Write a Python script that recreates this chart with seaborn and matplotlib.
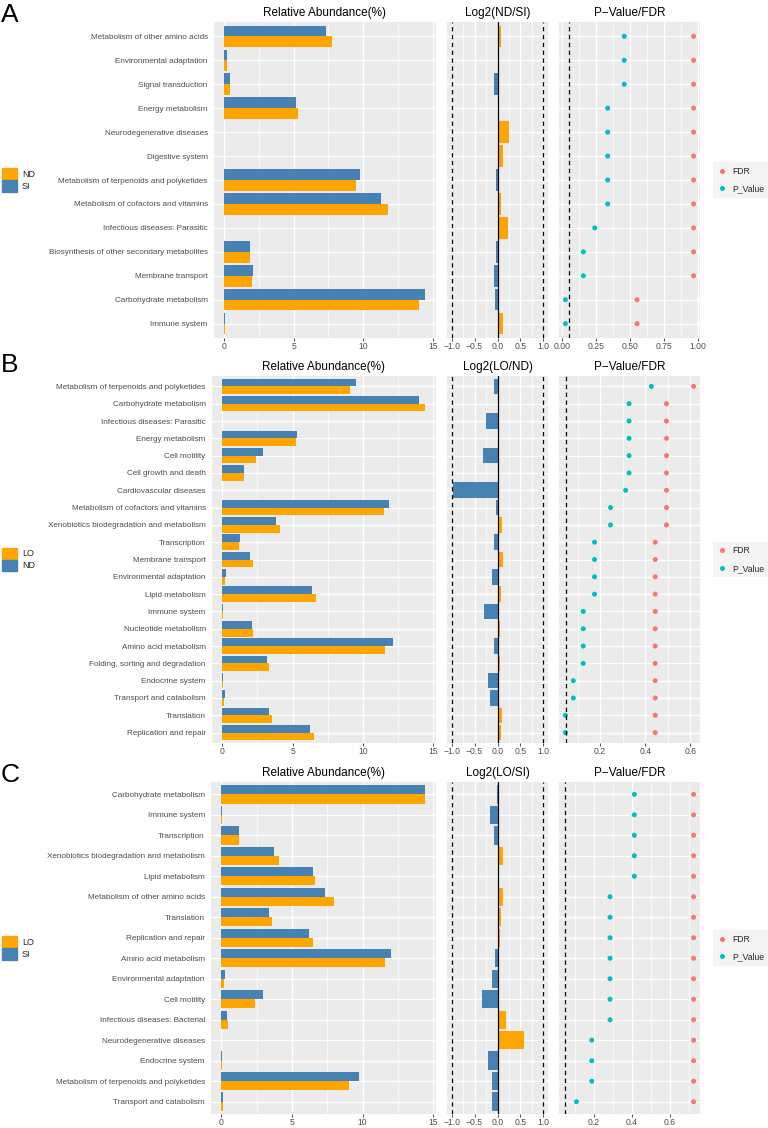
from matplotlib import pyplot as plt
from matplotlib.patches import Patch
from matplotlib.ticker import MultipleLocator, FuncFormatter
import pandas as pd
import seaborn as sns

# ---- panel A : ND vs SI
a_cats = ['Metabolism of other amino acids', 'Environmental adaptation', 'Signal transduction',
          'Energy metabolism', 'Neurodegenerative diseases', 'Digestive system',
          'Metabolism of terpenoids and polyketides', 'Metabolism of cofactors and vitamins',
          'Infectious diseases: Parasitic', 'Biosynthesis of other secondary metabolites',
          'Membrane transport', 'Carbohydrate metabolism', 'Immune system']
a_nd = [7.75, 0.22, 0.41, 5.30, 0.004, 0.003, 9.52, 11.82, 0.003, 1.85, 2.01, 14.00, 0.08]
a_si = [7.34, 0.22, 0.43, 5.20, 0.003, 0.003, 9.78, 11.25, 0.003, 1.87, 2.11, 14.48, 0.07]
a_log2 = [0.074, 0.01, -0.074, 0.02, 0.26, 0.13, -0.04, 0.067, 0.23, -0.03, -0.07, -0.06, 0.12]
a_p = [0.46, 0.46, 0.46, 0.338, 0.338, 0.338, 0.338, 0.338, 0.243, 0.159, 0.159, 0.027, 0.027]
a_fdr = [0.97, 0.97, 0.97, 0.97, 0.97, 0.97, 0.97, 0.97, 0.97, 0.97, 0.97, 0.554, 0.554]

# ---- panel B : LO vs ND
b_cats = ['Metabolism of terpenoids and polyketides', 'Carbohydrate metabolism',
          'Infectious diseases: Parasitic', 'Energy metabolism', 'Cell motility',
          'Cell growth and death', 'Cardiovascular diseases', 'Metabolism of cofactors and vitamins',
          'Xenobiotics biodegradation and metabolism', 'Transcription', 'Membrane transport',
          'Environmental adaptation', 'Lipid metabolism', 'Immune system', 'Nucleotide metabolism',
          'Amino acid metabolism', 'Folding, sorting and degradation', 'Endocrine system',
          'Transport and catabolism', 'Translation', 'Replication and repair']
b_lo = [9.08, 14.43, 0.003, 5.21, 2.37, 1.54, 0.002, 11.49, 4.10, 1.23, 2.20, 0.21, 6.66,
        0.05, 2.20, 11.59, 3.32, 0.07, 0.12, 3.55, 6.49]
b_nd = [9.53, 13.98, 0.003, 5.28, 2.91, 1.54, 0.003, 11.82, 3.82, 1.28, 2.01, 0.24, 6.37,
        0.07, 2.11, 12.13, 3.20, 0.09, 0.17, 3.36, 6.21]
b_log2 = [-0.07, 0.04, -0.25, 0.02, -0.31, 0.01, -0.96, -0.04, 0.10, -0.07, 0.13, -0.13, 0.07,
          -0.29, 0.06, -0.07, 0.05, -0.21, -0.16, 0.10, 0.07]
b_p = [0.427, 0.328, 0.328, 0.328, 0.328, 0.328, 0.313, 0.246, 0.246, 0.175, 0.175, 0.175, 0.175,
       0.125, 0.125, 0.125, 0.125, 0.081, 0.081, 0.046, 0.046]
b_fdr = [0.614, 0.494, 0.494, 0.494, 0.494, 0.494, 0.494, 0.494, 0.494, 0.444, 0.444, 0.444, 0.444,
         0.444, 0.444, 0.444, 0.444, 0.444, 0.444, 0.444, 0.444]

# ---- panel C : LO vs SI
c_cats = ['Carbohydrate metabolism', 'Immune system', 'Transcription',
          'Xenobiotics biodegradation and metabolism', 'Lipid metabolism',
          'Metabolism of other amino acids', 'Translation', 'Replication and repair',
          'Amino acid metabolism', 'Environmental adaptation', 'Cell motility',
          'Infectious diseases: Bacterial', 'Neurodegenerative diseases', 'Endocrine system',
          'Metabolism of terpenoids and polyketides', 'Transport and catabolism']
c_lo = [14.40, 0.05, 1.23, 4.09, 6.64, 7.97, 3.57, 6.48, 11.58, 0.21, 2.39, 0.47, 0.004, 0.07, 9.05, 0.12]
c_si = [14.44, 0.07, 1.28, 3.74, 6.50, 7.35, 3.40, 6.22, 12.01, 0.24, 2.96, 0.40, 0.003, 0.09, 9.76, 0.14]
c_log2 = [-0.003, -0.17, -0.07, 0.13, 0.02, 0.11, 0.07, 0.06, -0.06, -0.12, -0.33, 0.19, 0.58,
          -0.20, -0.11, -0.11]
c_p = [0.413, 0.413, 0.413, 0.413, 0.413, 0.285, 0.285, 0.285, 0.285, 0.285, 0.285, 0.285,
       0.189, 0.189, 0.189, 0.108]
c_fdr = [0.725] * 16

ORANGE = '#FFA500'
BLUE = '#4682B4'
W, H = 768, 1128
DASH = (0, (3.5, 2.8))

sns.set_style('darkgrid', {'axes.facecolor': '#EBEBEB', 'grid.color': 'white'})
plt.rcParams['font.family'] = ['Liberation Sans', 'DejaVu Sans']

fig = plt.figure(figsize=(W / 100, H / 100), dpi=100)


def fmt(dec):
    return FuncFormatter(lambda v, pos: f'{v:.{dec}f}'.replace('-', '\u2212'))


def style_axis(ax, major, minor, dec, n):
    ax.xaxis.set_major_locator(MultipleLocator(major))
    ax.xaxis.set_minor_locator(MultipleLocator(minor))
    ax.xaxis.set_major_formatter(fmt(dec))
    ax.set_ylim(n - 0.4, -0.6)
    ax.grid(which='major', color='white', lw=1.0)
    ax.grid(which='minor', axis='x', color='white', lw=0.5)
    ax.set_axisbelow(True)
    for s in ax.spines.values():
        s.set_visible(False)
    ax.tick_params(axis='x', which='major', bottom=True, length=1.8, width=0.6, color='#333333',
                   labelsize=6.2, labelcolor='#4D4D4D', pad=0.8)
    ax.tick_params(axis='x', which='minor', length=0)
    ax.set_xlabel('')
    ax.set_ylabel('')


def draw_panel(top, bot, left, letter, letter_top, cats, name_o, vals_o, name_b, vals_b,
               lfc, lfc_title, pv, fdr, p_step, p_dec):
    n = len(cats)
    y0 = 1 - bot / H
    h = (bot - top) / H
    ax1 = fig.add_axes([left / W, y0, (435.5 - left) / W, h])
    ax2 = fig.add_axes([447 / W, y0, 101 / W, h])
    ax3 = fig.add_axes([559 / W, y0, 141 / W, h])

    # relative abundance
    ab = pd.DataFrame({'cat': cats * 2, 'grp': [name_b] * n + [name_o] * n, 'val': vals_b + vals_o})
    sns.barplot(data=ab, x='val', y='cat', hue='grp', order=cats, hue_order=[name_b, name_o],
                palette={name_o: ORANGE, name_b: BLUE}, orient='h', width=0.9, saturation=1,
                errorbar=None, legend=False, linewidth=0, ax=ax1)
    hi = max(vals_o + vals_b)
    ax1.set_xlim(-0.05 * hi, 1.05 * hi)
    style_axis(ax1, 5, 2.5, 0, n)
    ax1.tick_params(axis='y', length=0, labelsize=5.9, labelcolor='#4D4D4D', pad=4.5)
    ax1.set_title('Relative Abundance(%)', fontsize=8.5, pad=4.5, color='black')

    # log2 fold change
    lf = pd.DataFrame({'cat': cats, 'val': lfc, 'dir': ['up' if v > 0 else 'down' for v in lfc]})
    sns.barplot(data=lf, x='val', y='cat', hue='dir', order=cats, hue_order=['up', 'down'],
                palette={'up': ORANGE, 'down': BLUE}, dodge=False, orient='h', width=0.9,
                saturation=1, errorbar=None, legend=False, linewidth=0, ax=ax2)
    ax2.set_xlim(-1.1, 1.1)
    style_axis(ax2, 0.5, 0.25, 1, n)
    ax2.axvline(0, color='black', lw=0.9, zorder=5)
    for xv in (-1, 1):
        ax2.axvline(xv, color='black', lw=0.9, ls=DASH, zorder=5)
    ax2.tick_params(axis='y', length=0, labelleft=False)
    ax2.set_title(lfc_title, fontsize=8.5, pad=4.5, color='black')

    # p-value / fdr
    pf = pd.DataFrame({'cat': cats * 2, 'type': ['FDR'] * n + ['P_Value'] * n, 'val': fdr + pv})
    sns.stripplot(data=pf, x='val', y='cat', hue='type', order=cats, hue_order=['FDR', 'P_Value'],
                  palette={'FDR': '#F8766D', 'P_Value': '#00BFC4'}, jitter=False, dodge=False,
                  size=3.6, linewidth=0, orient='h', ax=ax3, zorder=3)
    ax3.axvline(0.05, color='black', lw=0.9, ls=DASH, zorder=4)
    lo = min(min(pv), 0.05)
    top_v = max(fdr + pv)
    ax3.set_xlim(lo - 0.05 * (top_v - lo), top_v + 0.05 * (top_v - lo))
    style_axis(ax3, p_step, p_step / 2, p_dec, n)
    ax3.tick_params(axis='y', length=0, labelleft=False)
    ax3.set_title('P\u2212Value/FDR', fontsize=8.5, pad=4.5, color='black')
    sns.move_legend(ax3, 'center left', bbox_to_anchor=(1.095, 0.5), title=None, frameon=True,
                    fancybox=False, fontsize=6.2, borderpad=0.5, handletextpad=0.7,
                    labelspacing=1.0, handlelength=1.0, borderaxespad=0)
    leg = ax3.get_legend()
    leg.get_frame().set_facecolor('#F2F2F2')
    leg.get_frame().set_edgecolor('none')

    # group legend on the left
    center = 1 - (top + bot) / 2 / H
    fig.legend(handles=[Patch(color=ORANGE, label=name_o), Patch(color=BLUE, label=name_b)],
               loc='center left', bbox_to_anchor=(2 / W, center), frameon=False, fontsize=6.5,
               handlelength=1.65, handleheight=1.55, handletextpad=0.55, labelspacing=0.08,
               borderpad=0, borderaxespad=0)

    fig.text(1 / W, 1 - letter_top / H, letter, fontsize=19, va='top', ha='left', color='black')


draw_panel(22, 338, 214, 'A', 3, a_cats, 'ND', a_nd, 'SI', a_si, a_log2, 'Log2(ND/SI)',
           a_p, a_fdr, 0.25, 2)
draw_panel(376, 743, 212, 'B', 353, b_cats, 'LO', b_lo, 'ND', b_nd, b_log2, 'Log2(LO/ND)',
           b_p, b_fdr, 0.2, 1)
draw_panel(782, 1114, 211, 'C', 763, c_cats, 'LO', c_lo, 'SI', c_si, c_log2, 'Log2(LO/SI)',
           c_p, c_fdr, 0.2, 1)

fig.savefig('out.png', dpi=100)
